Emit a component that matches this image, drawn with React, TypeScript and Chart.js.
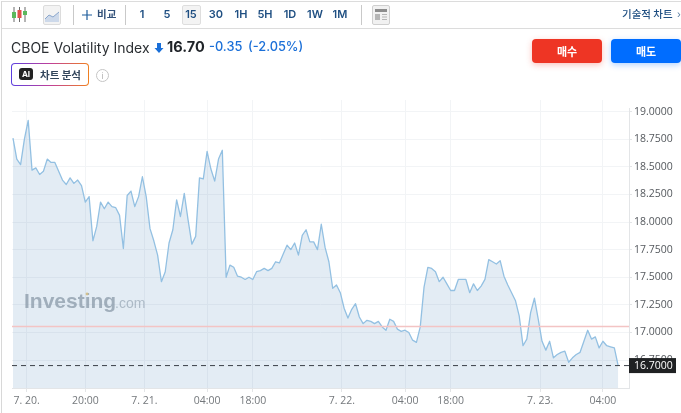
import React, { useEffect, useRef } from "react";
import { Chart, registerables } from "chart.js";

Chart.register(...registerables);

const prices = [
  18.76, 18.57, 18.52, 18.75, 18.92, 18.47, 18.49, 18.43, 18.46, 18.57,
  18.54, 18.54, 18.46, 18.38, 18.34, 18.4, 18.35, 18.38, 18.33, 18.18,
  18.23, 17.83, 17.96, 18.18, 18.12, 18.18, 18.14, 18.13, 18.06, 17.76,
  18.24, 18.28, 18.14, 18.23, 18.41, 18.23, 17.94, 17.83, 17.7, 17.46,
  17.55, 17.81, 17.93, 18.2, 18.05, 18.26, 18.02, 17.8, 17.87, 18.4,
  18.39, 18.64, 18.48, 18.37, 18.57, 18.65, 17.5, 17.61, 17.59, 17.51,
  17.5, 17.48, 17.5, 17.48, 17.55, 17.56, 17.58, 17.56, 17.58, 17.64,
  17.63, 17.71, 17.79, 17.75, 17.81, 17.7, 17.88, 17.93, 17.82, 17.82,
  17.75, 17.98, 17.77, 17.64, 17.4, 17.43, 17.36, 17.22, 17.13, 17.21,
  17.26, 17.14, 17.08, 17.11, 17.1, 17.08, 17.1, 17.05, 17.02, 17.12,
  17.1, 17.03, 17.01, 17.02, 17.0, 16.93, 16.91, 17.05, 17.41, 17.59,
  17.58, 17.55, 17.46, 17.5, 17.44, 17.38, 17.38, 17.48, 17.48, 17.48,
  17.36, 17.44, 17.38, 17.42, 17.48, 17.66, 17.64, 17.62, 17.65, 17.51,
  17.43, 17.36, 17.29, 17.15, 16.88, 16.94, 17.18, 17.31, 17.12, 16.92,
  16.84, 16.92, 16.77, 16.8, 16.82, 16.83, 16.73, 16.77, 16.8, 16.82,
  16.92, 17.02, 16.94, 16.96, 16.86, 16.92, 16.88, 16.87, 16.86, 16.7,
];
const xTickPositions = [3.6, 19, 34.5, 51, 63, 86.4, 103, 115, 138.5, 155];
const xTickLabels = ["7. 20.", "20:00", "7. 21.", "04:00", "18:00", "7. 22.", "04:00", "18:00", "7. 23.", "04:00"];
const yTicks = [19, 18.75, 18.5, 18.25, 18, 17.75, 17.5, 17.25, 17, 16.75];
const previousClose = 17.054;
const lastPrice = 16.7;
const intervals = [
  ["1", 142], ["5", 167], ["15", 191], ["30", 216], ["1H", 241],
  ["5H", 265], ["1D", 290], ["1W", 315], ["1M", 340],
] as const;

const KR = '"Noto Sans CJK KR", Inter, sans-serif';
const UI = 'Inter, "Noto Sans CJK KR", sans-serif';
const AXIS = '"Open Sans", "Noto Sans", sans-serif';

const overlayPlugin = {
  id: "overlay",
  beforeDatasetsDraw(chart: any) {
    const { ctx } = chart;
    ctx.save();
    ctx.textBaseline = "alphabetic";
    ctx.fillStyle = "rgba(150,158,166,0.75)";
    ctx.font = 'bold 21px "Liberation Sans", sans-serif';
    ctx.fillText("Investing", 24, 308);
    ctx.fillStyle = "rgba(150,158,166,0.6)";
    ctx.font = '14px "Liberation Sans", sans-serif';
    ctx.fillText(".com", 115, 308);
    ctx.fillStyle = "rgba(240,205,130,0.9)";
    ctx.beginPath();
    ctx.arc(87, 294, 1.4, 0, Math.PI * 2);
    ctx.fill();
    ctx.restore();
  },
  afterDraw(chart: any) {
    const { ctx, scales, chartArea } = chart;
    const y = scales.y.getPixelForValue(lastPrice);
    const left = chartArea.right;
    ctx.save();
    ctx.strokeStyle = "#e3e5e7";
    ctx.lineWidth = 1;
    ctx.beginPath();
    ctx.moveTo(left + 0.5, 108);
    ctx.lineTo(left + 0.5, chartArea.bottom);
    ctx.stroke();
    ctx.fillStyle = "#1f2123";
    ctx.fillRect(left, y - 7.5, 47, 15);
    ctx.fillStyle = "#ffffff";
    ctx.font = `10.5px ${AXIS}`;
    ctx.textBaseline = "middle";
    ctx.fillText(lastPrice.toFixed(4), left + 5, y + 0.5);
    ctx.restore();
  },
};

const abs = (x: number, y: number, extra: React.CSSProperties = {}): React.CSSProperties => ({
  position: "absolute",
  left: x,
  top: y,
  whiteSpace: "nowrap",
  ...extra,
});

export default function App() {
  const ref = useRef<HTMLCanvasElement>(null);
  useEffect(() => {
    const chart = new Chart(ref.current!, {
      type: "line",
      data: {
        datasets: [
          {
            data: prices.map((y, x) => ({ x, y })),
            borderColor: "#93c0e2",
            borderWidth: 1.3,
            borderJoinStyle: "round",
            backgroundColor: "rgba(70,130,180,0.15)",
            fill: "start",
            pointRadius: 0,
            tension: 0,
            order: 3,
          },
          {
            data: [{ x: -0.26, y: previousClose }, { x: 161.85, y: previousClose }],
            borderColor: "#f3c4c4",
            borderWidth: 1.5,
            pointRadius: 0,
            order: 2,
          },
          {
            data: [{ x: -0.26, y: lastPrice }, { x: 161.85, y: lastPrice }],
            borderColor: "#3c4148",
            borderWidth: 1,
            borderDash: [5, 4],
            pointRadius: 0,
            order: 1,
          },
        ],
      } as any,
      options: {
        animation: false,
        responsive: false,
        devicePixelRatio: 1,
        layout: { padding: { left: 12, top: 100, right: 0, bottom: 0 } },
        plugins: { legend: { display: false }, tooltip: { enabled: false } },
        scales: {
          x: {
            type: "linear",
            min: -0.26,
            max: 161.85,
            afterBuildTicks: (axis: any) => {
              axis.ticks = xTickPositions.map((value) => ({ value }));
            },
            afterFit: (axis: any) => {
              axis.height = 25;
            },
            grid: { color: "#f2f4f6", tickColor: "#e3e5e7", tickLength: 4, lineWidth: 1 },
            border: { color: "#e3e5e7" },
            ticks: {
              autoSkip: false,
              maxRotation: 0,
              padding: 3,
              color: "#74787c",
              font: { family: AXIS, size: 10.5 },
              callback: (_v: any, i: number) => xTickLabels[i],
            },
          },
          y: {
            position: "right",
            min: 16.497,
            max: 19.105,
            afterBuildTicks: (axis: any) => {
              axis.ticks = yTicks.map((value) => ({ value }));
            },
            afterFit: (axis: any) => {
              axis.width = 52;
            },
            grid: { color: "#f2f4f6", tickColor: "#e3e5e7", tickLength: 3 },
            border: { display: false },
            ticks: {
              padding: 2,
              color: "#55595e",
              font: { family: AXIS, size: 10.5 },
              callback: (v: any) => Number(v).toFixed(4),
            },
          },
        },
      } as any,
      plugins: [overlayPlugin],
    });
    return () => chart.destroy();
  }, []);

  return (
    <div style={{ position: "fixed", left: 0, top: 0, width: 681, height: 413, overflow: "hidden", background: "#fff", fontFamily: UI }}>
      <canvas ref={ref} width={681} height={413} style={{ position: "absolute", left: 0, top: 0, width: 681, height: 413 }} />

      <div style={abs(1, 1, { width: 680, height: 1, background: "#dcdcdc" })} />
      <div style={abs(1, 28, { width: 680, height: 1, background: "#dcdcdc" })} />
      <div style={abs(1, 1, { width: 1, height: 412, background: "#d8d8d8" })} />

      <svg style={abs(11, 7)} width={17} height={15} viewBox="0 0 17 15">
        <path d="M3 0V15M8.5 0V15M14 0V15" stroke="#6b6b6b" strokeWidth="1" />
        <rect x="1" y="5" width="4" height="6" fill="#5cb85c" />
        <rect x="6.5" y="3" width="4" height="8" fill="#e2504c" />
        <rect x="12" y="4" width="4" height="4" fill="#5cb85c" />
      </svg>

      <div style={abs(43, 5, { width: 18, height: 20, background: "#f3f3f3", border: "1px solid #dcdcdc", boxSizing: "border-box", borderRadius: 2 })}>
        <svg width={16} height={18} viewBox="0 0 16 18">
          <path d="M1 13L5 9L9 11L15 6V16H1Z" fill="#cdd9ea" />
          <path d="M1 13L5 9L9 11L15 6" fill="none" stroke="#8aa6cc" strokeWidth="1" />
        </svg>
      </div>

      <div style={abs(73, 5, { width: 1, height: 20, background: "#c9c9c9" })} />
      <div style={abs(125, 5, { width: 1, height: 20, background: "#c9c9c9" })} />
      <div style={abs(361, 5, { width: 1, height: 20, background: "#c9c9c9" })} />

      <svg style={abs(82, 10)} width={10} height={10} viewBox="0 0 10 10">
        <path d="M5 0V10M0 5H10" stroke="#1d5c9c" strokeWidth="1.2" />
      </svg>
      <div style={abs(97, 6, { fontFamily: KR, fontSize: 10.5, lineHeight: "16px", fontWeight: 700, color: "#33527a" })}>비교</div>

      <div style={abs(182, 5, { width: 19, height: 20, background: "#f3f3f3", border: "1px solid #dedede", boxSizing: "border-box", borderRadius: 2 })} />
      {intervals.map(([t, x]) => (
        <div key={t} style={{ ...abs(x - 15, 6), width: 30, textAlign: "center", fontSize: 11, lineHeight: "16px", fontWeight: 600, color: "#1f4f82" }}>
          {t}
        </div>
      ))}

      <div style={abs(372, 5, { width: 18, height: 20, background: "#f1f1f1", border: "1px solid #cfcfcf", boxSizing: "border-box", borderRadius: 2 })}>
        <svg width={16} height={18} viewBox="0 0 16 18">
          <rect x="2" y="3" width="12" height="3" fill="#8c8c8c" />
          <rect x="2" y="8" width="5" height="6" fill="#b5b5b5" />
          <path d="M9 8.5H14M9 11H14M9 13.5H14" stroke="#b5b5b5" />
        </svg>
      </div>

      <div style={abs(622, 6, { fontFamily: KR, fontSize: 10.5, lineHeight: "16px", fontWeight: 500, color: "#1f4f82" })}>기술적 차트</div>
      <div style={abs(677, 6, { fontSize: 10, lineHeight: "16px", color: "#5b7ea3" })}>›</div>

      <div style={abs(11, 38, { fontSize: 14, lineHeight: "20px", color: "#2b2f33" })}>CBOE Volatility Index</div>
      <svg style={abs(154, 42)} width={10} height={12} viewBox="0 0 10 12">
        <path d="M3 1H7V6H9.5L5 11L0.5 6H3Z" fill="#1a6fd8" />
      </svg>
      <div style={abs(167, 37, { fontSize: 14.5, lineHeight: "20px", fontWeight: 700, color: "#1f2328" })}>16.70</div>
      <div style={abs(209, 37, { fontSize: 12.8, lineHeight: "20px", fontWeight: 500, color: "#1a6fd8" })}>-0.35</div>
      <div style={abs(248, 37, { fontSize: 12.8, lineHeight: "20px", fontWeight: 500, color: "#1a6fd8" })}>(-2.05%)</div>

      <div style={abs(11, 63, { width: 78, height: 23, padding: 1, boxSizing: "border-box", borderRadius: 4, background: "linear-gradient(90deg,#5b3fe0,#c0409a,#f08020)" })}>
        <div style={{ width: "100%", height: "100%", background: "#fff", borderRadius: 3 }} />
      </div>
      <div style={abs(19, 68, { width: 14, height: 12, background: "#222", borderRadius: 3, color: "#fff", fontSize: 8, fontWeight: 700, lineHeight: "12px", textAlign: "center" })}>AI</div>
      <div style={abs(40, 67, { fontFamily: KR, fontSize: 10.5, lineHeight: "16px", fontWeight: 700, color: "#33465c" })}>차트 분석</div>
      <div style={abs(96, 69, { width: 13, height: 13, border: "1px solid #c4c4c4", boxSizing: "border-box", borderRadius: "50%", color: "#b5b5b5", fontSize: 9, lineHeight: "11px", textAlign: "center" })}>i</div>

      <div style={abs(532, 39, { width: 70, height: 24, background: "#ee3524", borderRadius: 4, boxShadow: "0 2px 6px rgba(238,53,36,0.3)", color: "#fff", fontFamily: KR, fontSize: 11, fontWeight: 700, lineHeight: "24px", textAlign: "center" })}>매수</div>
      <div style={abs(611, 39, { width: 70, height: 24, background: "#006dff", borderRadius: 4, boxShadow: "0 2px 6px rgba(0,109,255,0.3)", color: "#fff", fontFamily: KR, fontSize: 11, fontWeight: 700, lineHeight: "24px", textAlign: "center" })}>매도</div>
    </div>
  );
}
